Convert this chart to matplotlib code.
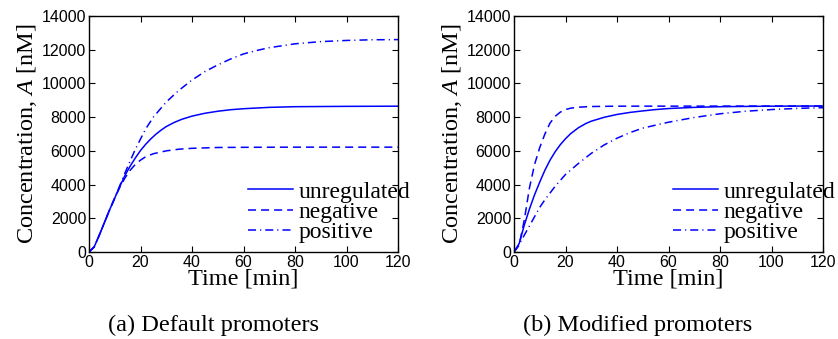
import numpy as np
import matplotlib
matplotlib.use('Agg')
import matplotlib.pyplot as plt

plt.rcParams['mathtext.fontset'] = 'custom'
plt.rcParams['mathtext.rm'] = 'Liberation Serif'
plt.rcParams['mathtext.it'] = 'Liberation Serif:italic'
plt.rcParams['lines.scale_dashes'] = False

# (a) default promoters
t_a_unreg = [0, 2, 4, 6, 8, 10, 12, 14, 16, 18, 20, 22, 24, 26, 28, 30, 33, 36, 40, 45, 50, 55, 60, 70, 80, 100, 120]
a_unreg = [0, 300, 1000, 1750, 2500, 3200, 3900, 4550, 5100, 5580, 6020, 6390, 6710, 6990, 7230, 7440, 7680, 7870,
           8060, 8230, 8350, 8440, 8500, 8580, 8620, 8640, 8650]
t_a_neg = [0, 2, 4, 6, 8, 10, 12, 14, 16, 18, 20, 22, 25, 30, 35, 40, 50, 60, 80, 120]
a_neg = [0, 300, 1000, 1750, 2500, 3200, 3850, 4400, 4850, 5200, 5450, 5650, 5830, 6000, 6100, 6150, 6200, 6210, 6220, 6220]
t_a_pos = [0, 2, 4, 6, 8, 10, 12, 14, 16, 18, 20, 22, 25, 30, 35, 40, 45, 50, 55, 60, 65, 70, 80, 90, 100, 110, 120]
a_pos = [0, 300, 1000, 1750, 2500, 3200, 3950, 4700, 5400, 6100, 6700, 7300, 8000, 8900, 9600, 10200, 10700, 11100,
         11450, 11750, 11950, 12120, 12350, 12480, 12550, 12590, 12600]

# (b) modified promoters
t_b_unreg = [0, 2, 4, 6, 8, 10, 12, 14, 16, 18, 20, 22, 25, 28, 30, 35, 40, 45, 50, 55, 60, 70, 80, 100, 120]
b_unreg = [0, 500, 1600, 2550, 3400, 4150, 4850, 5450, 5950, 6370, 6720, 7020, 7370, 7630, 7760, 7990, 8160, 8280,
           8370, 8450, 8510, 8580, 8620, 8650, 8660]
t_b_neg = [0, 2, 4, 6, 8, 10, 12, 14, 16, 18, 20, 22, 25, 30, 40, 120]
b_neg = [0, 400, 1900, 3800, 5200, 6200, 7000, 7650, 8050, 8300, 8450, 8530, 8590, 8630, 8650, 8660]
t_b_pos = [0, 2, 4, 6, 8, 10, 12, 14, 16, 18, 20, 25, 30, 35, 40, 45, 50, 60, 70, 80, 90, 100, 110, 120]
b_pos = [0, 450, 1000, 1550, 2100, 2650, 3100, 3500, 3900, 4250, 4600, 5250, 5850, 6350, 6750, 7080, 7350, 7700,
         7980, 8200, 8350, 8450, 8520, 8560]

labels = ['unregulated', 'negative', 'positive']
captions = ['(a) Default promoters', '(b) Modified promoters']
xticks = np.arange(0, 121, 20)
yticks = np.arange(0, 14001, 2000)

fig = plt.figure(figsize=(8.38, 3.39), dpi=100)
W, H = 838., 339.
ax_a = fig.add_axes([89/W, 1-252/H, 309/W, 236/H])
ax_b = fig.add_axes([514/W, 1-252/H, 309/W, 236/H])

panels = [(ax_a, [(t_a_unreg, a_unreg), (t_a_neg, a_neg), (t_a_pos, a_pos)]),
          (ax_b, [(t_b_unreg, b_unreg), (t_b_neg, b_neg), (t_b_pos, b_pos)])]
# matlab-like dash patterns, in points
styles = ['-', (0, (5.8, 3.6)), (0, (5.8, 2.9, 0.8, 2.9))]
serif = 'Liberation Serif'

for ax, series in panels:
    for (t, y), ls, lab in zip(series, styles, labels):
        ax.plot(t, y, color='#0000ff', linestyle=ls, linewidth=1.1, label=lab)
    ax.set_xlim(0, 120)
    ax.set_ylim(0, 14000)
    ax.set_xticks(xticks)
    ax.set_yticks(yticks)
    ax.tick_params(direction='in', top=True, right=True, length=4, width=0.8,
                   labelsize=11.5, pad=2)
    for lbl in ax.get_xticklabels() + ax.get_yticklabels():
        lbl.set_fontfamily('Liberation Sans')
    for s in ax.spines.values():
        s.set_linewidth(1.0)
    ax.set_xlabel('Time [min]', fontsize=17.5, fontfamily=serif, labelpad=-1)
    ax.set_ylabel('Concentration, $A$ [nM]', fontsize=17.5, fontfamily=serif, labelpad=2)
    leg = ax.legend(loc='upper left', bbox_to_anchor=(0.515, 0.30), frameon=False,
                    prop={'family': serif, 'size': 17}, handlelength=1.9,
                    handletextpad=0.25, labelspacing=-0.05, borderpad=0, borderaxespad=0)

fig.text(214/W, 1-325/H, captions[0], fontsize=17.5, fontfamily=serif, ha='center', va='center')
fig.text(638/W, 1-325/H, captions[1], fontsize=17.5, fontfamily=serif, ha='center', va='center')

fig.savefig('out.png', dpi=100)
